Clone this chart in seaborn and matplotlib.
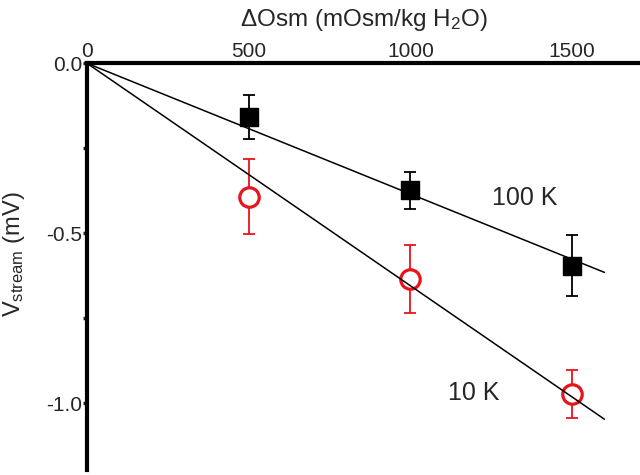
import numpy as np
import pandas as pd
import seaborn as sns
import matplotlib.pyplot as plt

# Data
osm = [500, 1000, 1500]
v_100k = [-0.159, -0.373, -0.595]
err_100k = [0.065, 0.054, 0.090]
v_10k = [-0.392, -0.634, -0.973]
err_10k = [0.110, 0.100, 0.070]
fit_x = [0, 1600]
x_ticks = [0, 500, 1000, 1500]
y_ticks = [0.0, -0.5, -1.0]
y_tick_labels = ['0.0', '-0.5', '-1.0']

sns.set_style('ticks')
plt.rcParams['font.family'] = ['Liberation Sans', 'DejaVu Sans']
plt.rcParams['mathtext.fontset'] = 'custom'
plt.rcParams['mathtext.rm'] = 'Liberation Sans'
plt.rcParams['mathtext.it'] = 'Liberation Sans:italic'
plt.rcParams['mathtext.default'] = 'regular'

fig = plt.figure(figsize=(6.4, 4.75), dpi=100)
ax = fig.add_axes([87 / 640, 5 / 475, 553 / 640, 406.7 / 475])

# linear fits through the origin
x_arr = np.array(osm, dtype=float)
slope_100k = np.dot(x_arr, v_100k) / np.dot(x_arr, x_arr)
slope_10k = np.dot(x_arr, v_10k) / np.dot(x_arr, x_arr)
fit_df = pd.DataFrame({
    'x': fit_x + fit_x,
    'y': [slope_100k * v for v in fit_x] + [slope_10k * v for v in fit_x],
    'series': ['100 K'] * 2 + ['10 K'] * 2,
})

# error bars
ax.errorbar(osm, v_100k, yerr=err_100k, fmt='none', ecolor='black',
            elinewidth=1.3, capsize=4.5, capthick=1.3, zorder=1)
ax.errorbar(osm, v_10k, yerr=err_10k, fmt='none', ecolor='#e8141b',
            elinewidth=1.3, capsize=4.5, capthick=1.3, zorder=1)

# markers
sns.scatterplot(x=osm, y=v_100k, marker='s', s=13.5 ** 2, color='black',
                edgecolor='black', linewidth=1, ax=ax, zorder=2)
sns.scatterplot(x=osm, y=v_10k, marker='o', s=14 ** 2, facecolor='white',
                edgecolor='#e8141b', linewidth=2.3, ax=ax, zorder=2)

# fit lines
sns.lineplot(data=fit_df, x='x', y='y', units='series', estimator=None,
             color='black', linewidth=1.1, ax=ax, zorder=3)

ax.text(1355, -0.396, '100 K', fontsize=18, ha='center', va='center')
ax.text(1196, -0.970, '10 K', fontsize=18, ha='center', va='center')

ax.set_xlim(0, 1710)
ax.set_ylim(-1.196, 0)

ax.xaxis.tick_top()
ax.xaxis.set_label_position('top')
ax.set_xticks(x_ticks)
ax.tick_params(axis='x', length=0, pad=2, labelsize=15)

ax.set_yticks(y_ticks)
ax.set_yticklabels(y_tick_labels)
ax.set_yticks([-0.25, -0.75], minor=True)
ax.tick_params(axis='y', which='both', direction='out', length=3, width=2.5,
               pad=0.5, labelsize=15)

for side in ['right', 'bottom']:
    ax.spines[side].set_visible(False)
for side in ['top', 'left']:
    ax.spines[side].set_linewidth(3)
    ax.spines[side].set_color('black')

ax.set_xlabel('ΔOsm (mOsm/kg H$_2$O)', fontsize=17.5, labelpad=11)
ax.set_ylabel('V$_{stream}$ (mV)', fontsize=17, va='center')
ax.yaxis.set_label_coords(-0.132, 0.531)

fig.savefig('out.png', dpi=100)
